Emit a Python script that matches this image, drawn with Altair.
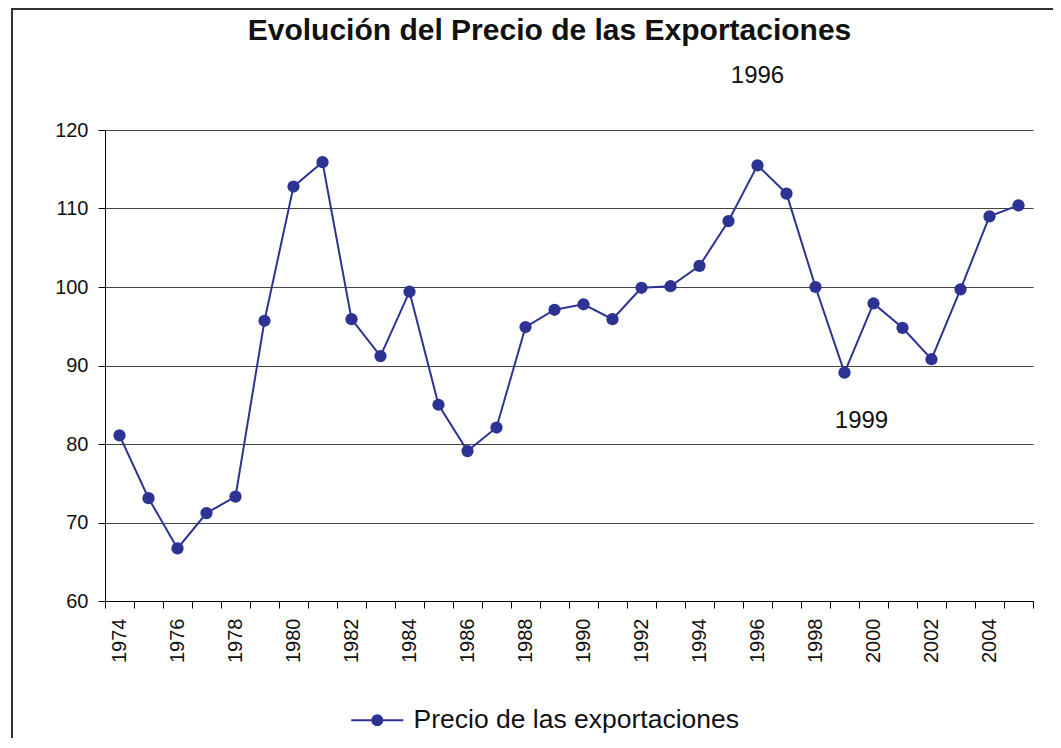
import altair as alt
import pandas as pd

years = list(range(1974, 2006))
precio = [81.1, 73.1, 66.7, 71.2, 73.3, 95.7, 112.8, 115.9, 95.9, 91.2,
          99.4, 85.0, 79.1, 82.1, 94.9, 97.1, 97.8, 95.9, 99.9, 100.1,
          102.7, 108.4, 115.5, 111.9, 100.0, 89.1, 97.9, 94.8, 90.8, 99.7,
          109.0, 110.4]
series_name = "Precio de las exportaciones"
title_text = "Evolución del Precio de las Exportaciones"
y_ticks = [60, 70, 80, 90, 100, 110, 120]
note_labels = ["1996", "1999"]
note_years = [1996, 1999]
note_values = [126.9, 82.9]

COLOR = "#2D3392"
FONT = "Liberation Sans"
W, H = 928, 471

df = pd.DataFrame({"year": years, "precio": precio, "serie": series_name})
notes = pd.DataFrame({"year": note_years, "precio": note_values, "label": note_labels})
title_df = pd.DataFrame({"t": [title_text]})

x_scale = alt.Scale(type="band", paddingInner=0, paddingOuter=0, domain=years)

x_enc = alt.X(
    "year:O",
    bandPosition=0.5,
    scale=x_scale,
    axis=alt.Axis(
        title=None,
        labelAngle=-90,
        labelExpr="datum.value % 2 == 0 ? datum.label : ''",
        tickBand="extent",
        tickSize=7,
        tickColor="#000000",
        domainColor="#000000",
        labelFontSize=20,
        labelColor="#111111",
        labelPadding=10,
        grid=False,
    ),
)
y_enc = alt.Y(
    "precio:Q",
    scale=alt.Scale(domain=[60, 120], nice=False, zero=False),
    axis=alt.Axis(
        title=None,
        values=y_ticks,
        grid=True,
        gridColor="#444444",
        gridWidth=1,
        tickSize=7,
        tickColor="#000000",
        domainColor="#000000",
        labelFontSize=20,
        labelColor="#111111",
        labelPadding=10,
    ),
)
color_enc = alt.Color(
    "serie:N",
    scale=alt.Scale(domain=[series_name], range=[COLOR]),
    legend=alt.Legend(
        title=None,
        orient="none",
        legendX=259,
        legendY=577,
        padding=0,
        symbolType="M-5.2,0H5.2M1,0A1,1 0 1,1 -1,0A1,1 0 1,1 1,0Z",
        symbolSize=100,
        symbolFillColor=COLOR,
        symbolStrokeColor=COLOR,
        symbolStrokeWidth=2,
        labelFontSize=26.5,
        labelColor="#111111",
        labelOffset=23,
        labelLimit=600,
    ),
)

frame = alt.Chart(pd.DataFrame({"f": [0]})).mark_rect(
    filled=False, stroke="#333333", strokeWidth=2
).encode(
    x=alt.value(-93), x2=alt.value(W + 200),
    y=alt.value(-121), y2=alt.value(H + 300),
)

title = alt.Chart(title_df).mark_text(
    fontSize=30, fontWeight="bold", color="#111111", align="center",
    baseline="alphabetic", font=FONT,
).encode(x=alt.value(444.5), y=alt.value(-90), text="t:N")

line = alt.Chart(df).mark_line(strokeWidth=2).encode(x=x_enc, y=y_enc, color=color_enc)
points = alt.Chart(df).mark_point(filled=True, size=150, opacity=1).encode(
    x=x_enc, y=y_enc, color=color_enc
)


def note_layer(label, dx):
    return alt.Chart(notes).transform_filter(
        alt.datum.label == label
    ).mark_text(
        fontSize=24, color="#111111", dx=dx, baseline="middle", align="center"
    ).encode(
        x=alt.X("year:O", bandPosition=0.5, scale=x_scale),
        y=alt.Y("precio:Q"),
        text="label:N",
    )


note96 = note_layer("1996", 0)
note99 = note_layer("1999", 17)

chart = alt.layer(frame, title, line, points, note96, note99).properties(
    width=W,
    height=H,
    padding={"left": 97, "top": 122, "right": 20, "bottom": 137},
    autosize=alt.AutoSizeParams(type="none"),
).configure(font=FONT).configure_view(stroke=None).configure_axis(
    labelFont=FONT
).configure_legend(labelFont=FONT)

chart.save("out.html", embed_options={"renderer": "svg", "actions": False})
